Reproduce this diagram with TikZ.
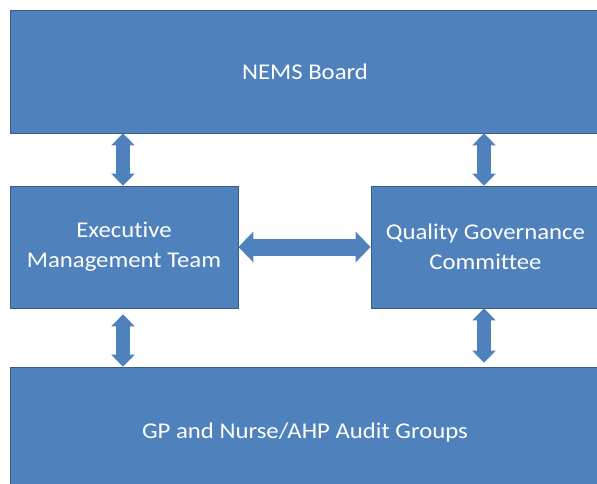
\documentclass[tikz,border=0pt]{standalone}
\usepackage{fontspec}
\setmainfont[FakeStretch=1.1,Ligatures=NoCommon]{Carlito}
\usetikzlibrary{arrows.meta}
\definecolor{boxfill}{HTML}{4F81BD}
\definecolor{boxline}{HTML}{385D8A}
\tikzset{
  unit/.style={draw=boxline, line width=0.8pt, fill=boxfill, text=white,
    align=center, inner sep=0pt, font=\fontsize{22.5}{30}\selectfont},
  vlink/.style={draw=boxfill, line width=14pt,
    {Triangle[length=12pt,width=23pt]}-{Triangle[length=12pt,width=23pt]}},
  hlink/.style={draw=boxfill, line width=17pt,
    {Triangle[length=15pt,width=30pt]}-{Triangle[length=15pt,width=30pt]}},
}
\begin{document}
\begin{tikzpicture}[x=1pt,y=-1pt]
  \useasboundingbox (0,0) rectangle (597,483);
  \clip (0,0) rectangle (597,483);
  % boxes (y grows downward)
  \node[unit, minimum width=590pt, minimum height=123pt] (board) at (305,71.5) {NEMS Board};
  \node[unit, minimum width=228pt, minimum height=122pt] (emt) at (124,247) {Executive\\Management Team};
  \node[unit, minimum width=229pt, minimum height=122pt] (qgc) at (485.5,247) {Quality Governance\\Committee};
  \node[unit, minimum width=590pt, minimum height=130pt] (audit) at (305,432) {GP and Nurse/AHP Audit Groups};
  % two-way links
  \coordinate (l1) at (123,0);
  \coordinate (r1) at (484,0);
  \draw[vlink] (board.south -| l1) -- (emt.north -| l1);
  \draw[vlink] (board.south -| r1) -- (qgc.north -| r1);
  \draw[vlink] ([yshift=-6pt]emt.south -| l1) -- (audit.north -| l1);
  \draw[vlink] (qgc.south -| r1) -- ([yshift=4pt]audit.north -| r1);
  \draw[hlink] (emt.east) -- (qgc.west);
\end{tikzpicture}
\end{document}
